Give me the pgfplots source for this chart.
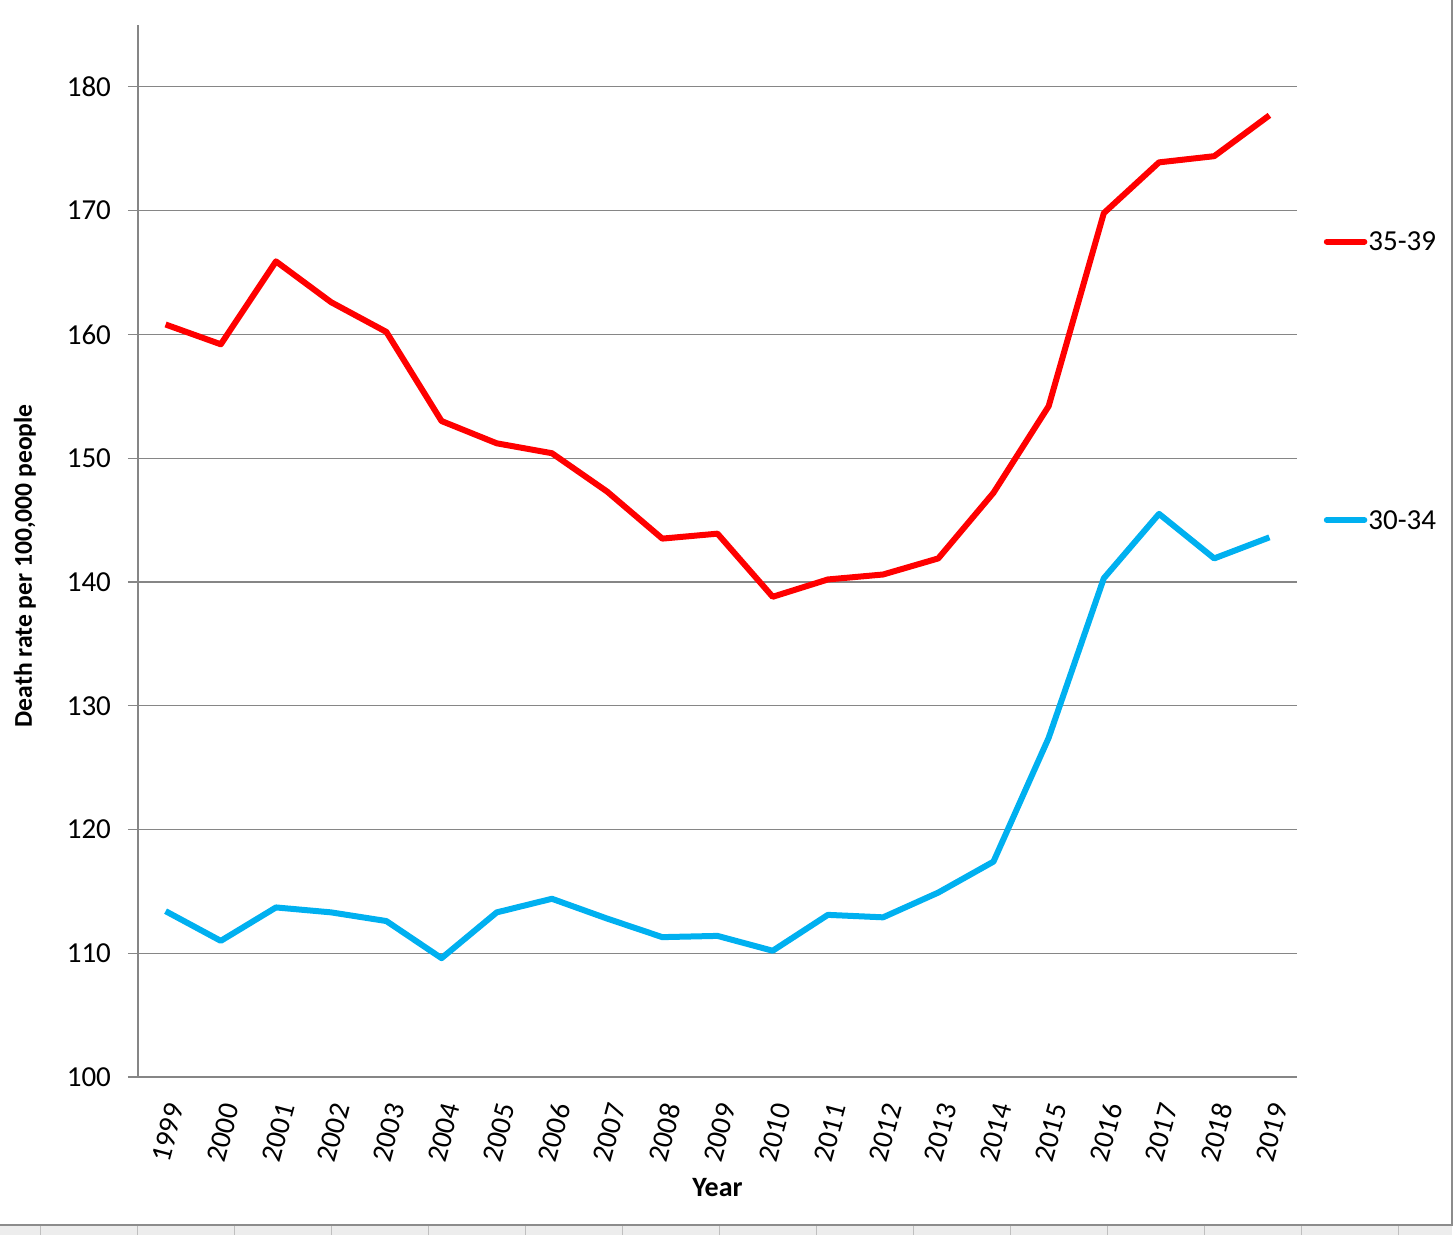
\documentclass[border=0pt]{standalone}
\usepackage{pgfplots}
\pgfplotsset{compat=1.18}
\usepackage{fontspec}
\setmainfont{Carlito}
\definecolor{xlred}{HTML}{FF0000}
\definecolor{xlblue}{HTML}{00B0F0}
\definecolor{gridgray}{HTML}{868686}
\pgfplotstableread{
x y
0 160.8
1 159.2
2 165.9
3 162.6
4 160.2
5 153.0
6 151.2
7 150.4
8 147.3
9 143.5
10 143.9
11 138.8
12 140.2
13 140.6
14 141.9
15 147.2
16 154.2
17 169.8
18 173.9
19 174.4
20 177.7
}\redtab
\pgfplotstableread{
x y
0 113.4
1 111.0
2 113.7
3 113.3
4 112.6
5 109.6
6 113.3
7 114.4
8 112.8
9 111.3
10 111.4
11 110.2
12 113.1
13 112.9
14 114.9
15 117.4
16 127.4
17 140.3
18 145.5
19 141.9
20 143.6
}\bluetab
\begin{document}
\begin{tikzpicture}
\path[use as bounding box] (0,0) rectangle (728pt,617.5pt);
\fill[black!7] (0,0) rectangle (726pt,4.5pt);
\foreach \cx in {40,137,234,331,428,525,622,719,816,913,1010,1107,1204,1301,1398}{
  \draw[black!25] (\cx*0.5pt,0) -- (\cx*0.5pt,4.5pt);
}
\draw[black!45, line width=0.8pt] (0,5pt) -- (726pt,5pt) -- (726pt,617.5pt);
\begin{axis}[
  at={(69pt,79pt)}, anchor=south west,
  scale only axis,
  width=579.5pt, height=526pt,
  xmin=-0.5, xmax=20.5,
  ymin=100, ymax=185,
  axis x line*=bottom, axis y line*=left,
  axis line style={gridgray, line width=0.6pt},
  every tick/.style={gridgray, line width=0.6pt},
  tick align=outside,
  major tick length=5pt,
  ytick={100,110,...,180},
  ymajorgrids,
  grid style={gridgray, line width=0.6pt},
  xtick={0,...,20},
  xticklabels={1999,2000,2001,2002,2003,2004,2005,2006,2007,2008,2009,2010,2011,2012,2013,2014,2015,2016,2017,2018,2019},
  x tick style={draw=none},
  extra x ticks={-0.5,0.5,...,20.5},
  extra x tick labels={},
  extra x tick style={x tick style={gridgray, line width=0.6pt}, tick align=outside, major tick length=4pt},
  xticklabel style={rotate=75, anchor=east, font=\fontsize{14.5}{16}\selectfont, yshift=-7pt, xshift=-3.5pt},
  yticklabel style={font=\fontsize{14.5}{16}\selectfont, xshift=-5pt},
  /pgf/number format/assume math mode=true,
  xlabel={\textbf{Year}},
  ylabel={\textbf{Death rate per 100,000 people}},
  xlabel style={at={(axis description cs:0.5,-0.1055)}, anchor=center, font=\fontsize{14}{16}\selectfont},
  ylabel style={at={(axis description cs:-0.0975,0.486)}, anchor=center, font=\fontsize{12.8}{15}\selectfont},
  clip=false,
]
\addplot[xlred, line width=3pt, line join=round] table[x=x,y=y]{\redtab};
\addplot[xlblue, line width=3pt, line join=round] table[x=x,y=y]{\bluetab};
\draw[xlred, line width=3pt, line cap=round] (axis cs:21.04,167.5) -- (axis cs:21.72,167.5)
  node[right, inner sep=0.5pt, black, font=\fontsize{14.5}{16}\selectfont] {35-39};
\draw[xlblue, line width=3pt, line cap=round] (axis cs:21.04,145.0) -- (axis cs:21.72,145.0)
  node[right, inner sep=0.5pt, black, font=\fontsize{14.5}{16}\selectfont] {30-34};
\end{axis}
\end{tikzpicture}
\end{document}
